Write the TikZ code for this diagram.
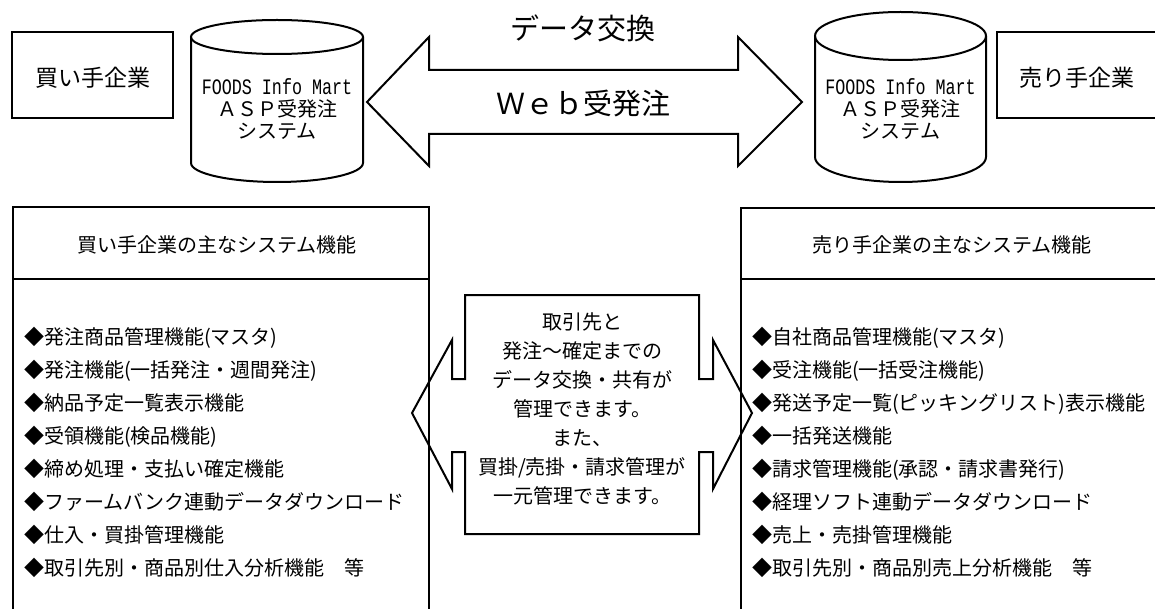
\documentclass[tikz,border=0pt]{standalone}
\usepackage{fontspec}
\usepackage{graphicx}
\setmainfont{Noto Sans CJK JP}
\newfontfamily\monof{Liberation Mono}
\newcommand{\foodsline}{\scalebox{0.76}[1]{\fontsize{22}{22}\selectfont\monof FOODS Info Mart}}
\tikzset{
  ln/.style={line width=2pt, line join=miter},
  txt/.style={inner sep=0pt, font=\fontsize{20}{22}\selectfont},
  bigtxt/.style={inner sep=0pt, font=\fontsize{29}{29}\selectfont},
  boxtxt/.style={inner sep=0pt, font=\fontsize{23}{23}\selectfont},
  midtxt/.style={inner sep=0pt, align=center, font=\fontsize{20}{29}\selectfont},
  listtxt/.style={inner sep=0pt, align=left, anchor=west, font=\fontsize{20}{33}\selectfont},
}
\begin{document}
\begin{tikzpicture}[x=1pt,y=-1pt]
\useasboundingbox (0,0) rectangle (1155,609);
\fill[white] (0,0) rectangle (1155,609);

% top company boxes
\draw[ln] (12,32) rectangle (173,118);
\node[boxtxt] (buyer) at (92.5,78) {買い手企業};
\draw[ln] (1155,32) -- (997,32) -- (997,118) -- (1155,118);
\node[boxtxt] (seller) at (1077,78) {売り手企業};

% left cylinder
\draw[ln] (277,37) ellipse [x radius=86, y radius=17];
\draw[ln] (191,37) -- (191,163) arc[start angle=180, end angle=0, x radius=86, y radius=19] -- (363,37);
\node[txt, align=center] (lsys) at (277,109) {\foodsline\\ＡＳＰ受発注\\システム};

% right cylinder
\draw[ln] (900.5,36) ellipse [x radius=85.5, y radius=24];
\draw[ln] (815,36) -- (815,157) arc[start angle=180, end angle=0, x radius=85.5, y radius=25] -- (986,36);
\node[txt, align=center] (rsys) at (900.5,109) {\foodsline\\ＡＳＰ受発注\\システム};

% top double arrow
\draw[ln] (367,102) -- (429,37) -- (429,70) -- (738,70) -- (738,37) -- (802,102)
  -- (738,166) -- (738,134) -- (429,134) -- (429,166) -- cycle;
\node[bigtxt] (exch) at (583,28) {データ交換};
\node[bigtxt] (web) at (583,103) {Ｗｅｂ受発注};

% bottom boxes
\draw[ln] (13,609) -- (13,207) -- (429,207) -- (429,609);
\draw[ln] (13,279) -- (429,279);
\node[txt] (ltitle) at (217,245) {買い手企業の主なシステム機能};
\node[listtxt] (llist) at (24,452) {◆発注商品管理機能(マスタ)\\◆発注機能(一括発注・週間発注)\\◆納品予定一覧表示機能\\◆受領機能(検品機能)\\◆締め処理・支払い確定機能\\◆ファームバンク連動データダウンロード\\◆仕入・買掛管理機能\\◆取引先別・商品別仕入分析機能　等};

\draw[ln] (1155,208) -- (741,208) -- (741,609);
\draw[ln] (741,279) -- (1155,279);
\node[txt] (rtitle) at (952,245) {売り手企業の主なシステム機能};
\node[listtxt] (rlist) at (752,452) {◆自社商品管理機能(マスタ)\\◆受注機能(一括受注機能)\\◆発送予定一覧(ピッキングリスト)表示機能\\◆一括発送機能\\◆請求管理機能(承認・請求書発行)\\◆経理ソフト連動データダウンロード\\◆売上・売掛管理機能\\◆取引先別・商品別売上分析機能　等};

% middle double arrow
\draw[ln] (412,413) -- (452,340) -- (452,379) -- (465,379) -- (465,295) -- (699,295)
  -- (699,379) -- (713,379) -- (713,340) -- (752,413) -- (713,489) -- (713,452)
  -- (699,452) -- (699,534) -- (465,534) -- (465,452) -- (452,452) -- (452,489) -- cycle;
\node[midtxt] (mid) at (582,409) {取引先と\\発注〜確定までの\\データ交換・共有が\\管理できます。\\また、\\買掛/売掛・請求管理が\\一元管理できます。};
\end{tikzpicture}
\end{document}
